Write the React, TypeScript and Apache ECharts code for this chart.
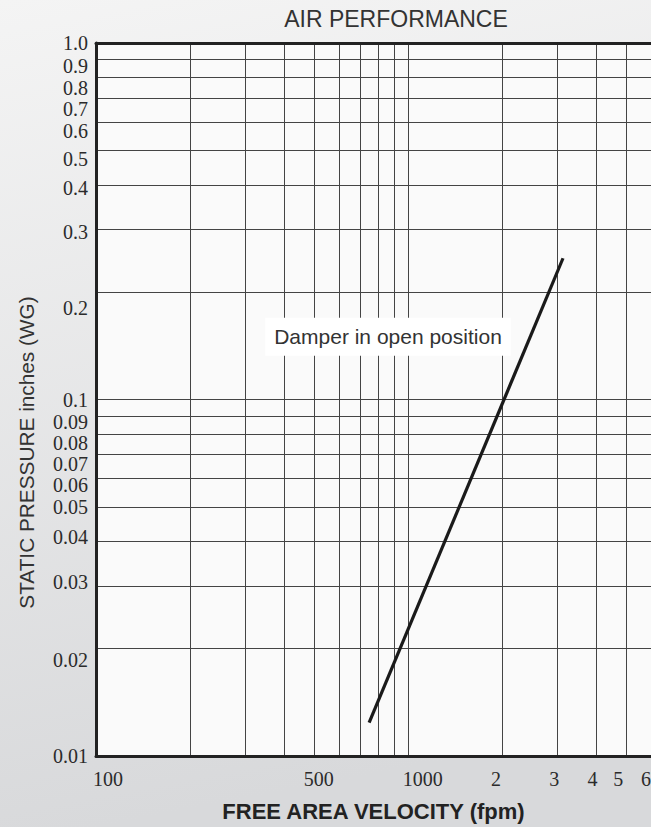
import React, { useEffect, useRef } from 'react';
import * as echarts from 'echarts';

// ---- data ----
const xGridValues = [100, 200, 300, 400, 500, 600, 700, 800, 900, 1000, 2000, 3000, 4000, 5000, 6000];
const xLabelValues = [100, 500, 1000, 2000, 3000, 4000, 5000, 6000];
const yGridValues = [
  0.01, 0.02, 0.03, 0.04, 0.05, 0.06, 0.07, 0.08, 0.09,
  0.1, 0.2, 0.3, 0.4, 0.5, 0.6, 0.7, 0.8, 0.9, 1.0,
];
const yLabelValues = yGridValues;
const curveVelocity = [750, 3135];
const curvePressure = [0.0124, 0.249];
const annotationText = 'Damper in open position';
const annotationAnchor = [862, 0.15];

const chartTitle = 'AIR PERFORMANCE';
const xName = 'FREE AREA VELOCITY (fpm)';
const yName = 'STATIC PRESSURE inches (WG)';

// ---- styles ----
const SERIF = '"Liberation Serif", "Times New Roman", serif';
const SANS = '"Liberation Sans", Arial, sans-serif';
const xLabelNudge: Record<string, number> = { '100': 12, '500': 4.5, '1000': 14.7, '2': -6, '3': -2.7, '4': -3.6, '5': -8, '6': -5 };
const yLabelNudge: Record<string, number> = {
  '1.0': 0, '0.9': 6.7, '0.8': 10, '0.7': 10.5, '0.6': 9.3, '0.5': 8.7, '0.4': 3.5, '0.3': 3, '0.2': 16,
  '0.1': 0.7, '0.09': 5.7, '0.08': 9, '0.07': 9, '0.06': 6.7, '0.05': 0, '0.04': -4.3, '0.03': -4, '0.02': 11, '0.01': 0,
};

const fmtX = (v: number) => (v >= 2000 ? String(Math.round(v / 1000)) : String(Math.round(v)));
const fmtY = (v: number) => {
  const n = Number(v.toPrecision(6));
  return n === 1 ? '1.0' : String(n);
};

const labelBase = { fontFamily: SERIF, fontSize: 20, color: '#2b2b2b' };

const xKeys = Object.keys(xLabelNudge);
const yKeys = Object.keys(yLabelNudge);
const xRich: Record<string, any> = {};
xKeys.forEach((k, i) => {
  const d = xLabelNudge[k];
  xRich['x' + i] = { ...labelBase, padding: d >= 0 ? [0, 0, 0, 2 * d] : [0, -2 * d, 0, 0] };
});
const yRich: Record<string, any> = {};
yKeys.forEach((k, i) => {
  const d = yLabelNudge[k];
  yRich['y' + i] = { ...labelBase, padding: d >= 0 ? [2 * d, 0, 0, 0] : [0, 0, -2 * d, 0] };
});

export default function App() {
  const ref = useRef<HTMLDivElement>(null);
  useEffect(() => {
    if (!ref.current) return;
    const chart = echarts.init(ref.current, null, { renderer: 'svg' });
    const gridColor = '#444';
    chart.setOption({
      animation: false,
      backgroundColor: {
        type: 'linear', x: 0, y: 0, x2: 0.15, y2: 1,
        colorStops: [
          { offset: 0, color: '#f4f4f4' },
          { offset: 1, color: '#d8d9db' },
        ],
      },
      title: {
        text: chartTitle,
        left: 391,
        top: 2,
        textAlign: 'center',
        textStyle: { fontFamily: SANS, fontSize: 23, fontWeight: 'normal', color: '#333' },
      },
      grid: {
        left: 96, top: 43, right: 0, bottom: 71,
        show: true, backgroundColor: '#fafafa', borderWidth: 0,
        outerBoundsMode: 'none',
      },
      xAxis: [
        {
          type: 'log', logBase: 10, min: 100, max: 6000,
          name: xName, nameLocation: 'middle', nameGap: 44,
          nameTextStyle: { fontFamily: SANS, fontSize: 22, fontWeight: 'bold', color: '#222' },
          axisLine: { show: true, lineStyle: { color: '#222', width: 3 } },
          axisTick: { show: false, customValues: xGridValues },
          axisLabel: {
            customValues: xLabelValues,
            showMinLabel: true, showMaxLabel: true,
            margin: 13,
            formatter: (v: number) => {
              const t = fmtX(v);
              return `{x${xKeys.indexOf(t)}|${t}}`;
            },
            rich: xRich,
            ...labelBase,
          },
          splitLine: { show: true, lineStyle: { color: gridColor, width: 1 } },
        },
        {
          type: 'log', logBase: 10, min: 100, max: 6000, position: 'top',
          axisLine: { show: true, lineStyle: { color: '#222', width: 3 } },
          axisTick: { show: false }, axisLabel: { show: false }, splitLine: { show: false },
        },
      ],
      yAxis: {
        type: 'log', logBase: 10, min: 0.01, max: 1,
        axisLine: { show: true, lineStyle: { color: '#222', width: 3 } },
        axisTick: { show: false, customValues: yGridValues },
        axisLabel: {
          customValues: yLabelValues,
          showMinLabel: true, showMaxLabel: true,
          hideOverlap: false,
          margin: 8,
          formatter: (v: number) => {
            const t = fmtY(v);
            return `{y${yKeys.indexOf(t)}|${t}}`;
          },
          rich: yRich,
          ...labelBase,
        },
        splitLine: { show: true, lineStyle: { color: gridColor, width: 1 } },
      },
      graphic: [
        {
          type: 'text', x: 26, y: 452.5, rotation: Math.PI / 2,
          style: {
            text: yName, fontFamily: SANS, fontSize: 20.8, fill: '#333',
            textAlign: 'center', textVerticalAlign: 'middle',
          },
        },
      ],
      series: [
        {
          type: 'line',
          xAxisIndex: 0,
          data: curveVelocity.map((v, i) => [v, curvePressure[i]]),
          showSymbol: false,
          lineStyle: { color: '#1a1a1a', width: 3.2 },
          z: 5,
          markPoint: {
            symbol: 'rect', symbolSize: 1,
            itemStyle: { color: 'rgba(0,0,0,0)' },
            data: [{ coord: annotationAnchor, value: annotationText }],
            label: {
              show: true, position: 'inside', formatter: annotationText,
              backgroundColor: '#ffffff', padding: [9, 9, 8, 9],
              fontFamily: SANS, fontSize: 21, color: '#333',
            },
          },
        },
      ],
    });
    return () => chart.dispose();
  }, []);
  return <div ref={ref} style={{ position: 'fixed', left: 0, top: 0, width: 651, height: 827 }} />;
}
